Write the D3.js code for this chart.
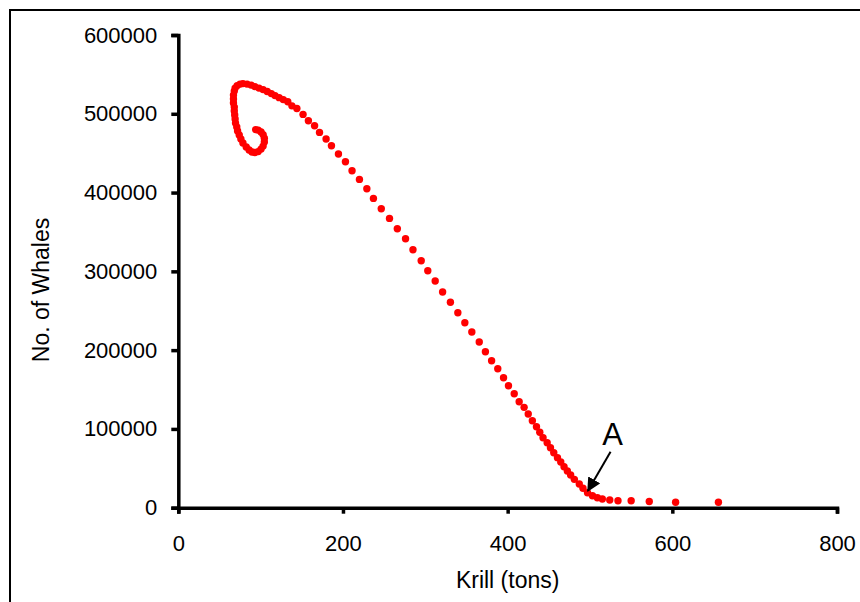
<!DOCTYPE html>
<html>
<head>
<meta charset="utf-8">
<script src="https://cdn.jsdelivr.net/npm/d3@7"></script>
<style>
  body { margin: 0; background: #fff; }
  svg { display: block; font-family: "Liberation Sans", Arial, sans-serif; }
</style>
</head>
<body>
<svg id="chart" width="860" height="602"></svg>
<script>
// krill (tons) vs number of whales
var krill = [656, 604, 572, 550, 534, 524, 515, 509, 503, 497, 491.5, 487, 481, 476.5, 472.5,
    468.5, 464.5, 460.5, 456, 452, 448, 443, 439, 435, 430, 425, 420, 414, 408, 401, 395, 388,
    380.5, 373, 365.5, 356.5, 348, 339.5, 330.5, 321, 312, 303, 295, 285, 276, 266, 256.5, 246.5,
    237, 229, 220, 211, 203, 194.5, 186, 179.5, 171.5, 165.5, 158, 151.5, 144, 138, 133,
    127.5, 122.5, 117.5, 113, 108, 103, 98, 93, 88.5, 83.5, 78.5, 75, 71.5, 69, 68, 67, 67, 67,
    68, 68, 68.5, 69, 69.5, 71, 72, 74, 76, 78.5, 82.5, 86, 89.5, 93, 97, 100.5, 103, 104.5,
    104.5, 103, 100.5, 97, 94];
var whales = [6900, 6900, 7900, 8900, 8900, 9800, 11000, 12700, 15200, 19000, 24600, 30000, 36000,
    41500, 46600, 52000, 58000, 63500, 69800, 76100, 82500, 88800, 95700, 102800, 110400, 118900,
    127400, 134500, 144700, 154800, 165000, 176400, 186500, 198000, 210300, 223000, 234800, 247500,
    260700, 273700, 287700, 300800, 313400, 327400, 341400, 354100, 367200, 379400, 392600, 404800,
    416700, 427700, 439100, 448900, 459400, 467900, 476400, 484800, 491100, 499200, 506800, 510100,
    515200, 518000, 520500, 523100, 525600, 528200, 530700, 532600, 534500, 536400, 537700, 538300,
    537700, 535800, 532600, 528800, 523700, 518700, 513600, 508500, 503500, 498400, 493300, 488200,
    483200, 478100, 473000, 468000, 462900, 457800, 454000, 451500, 450800, 452000, 455200, 459000,
    464100, 469100, 473600, 476800, 479300, 479900];

var xTicks = [0, 200, 400, 600, 800];
var yTicks = [0, 100000, 200000, 300000, 400000, 500000, 600000];

// label "A" and its arrow, in data units
var labelA = { text: "A", x: 527.5, y: 94000 };
var arrowA = { x1: 525, y1: 71000, x2: 497.5, y2: 21500 };

var width = 860, height = 602;
var margin = { top: 35, right: 23, bottom: 94.3, left: 178.3 };

var svg = d3.select("#chart");

// outer frame of the chart area
svg.append("rect")
    .attr("x", 10)
    .attr("y", 10)
    .attr("width", width)
    .attr("height", height)
    .attr("fill", "none")
    .attr("stroke", "#000")
    .attr("stroke-width", 2);

var x = d3.scaleLinear()
    .domain([0, 800])
    .range([margin.left, width - margin.right]);

var y = d3.scaleLinear()
    .domain([0, 600000])
    .range([height - margin.bottom, margin.top]);

var xAxis = svg.append("g")
    .attr("transform", "translate(0," + y(0) + ")")
    .call(d3.axisBottom(x).tickValues(xTicks).tickSize(6).tickSizeOuter(6).tickPadding(22));

var yAxis = svg.append("g")
    .attr("transform", "translate(" + x(0) + ",0)")
    .call(d3.axisLeft(y).tickValues(yTicks).tickFormat(d3.format("d")).tickSize(7).tickSizeOuter(7).tickPadding(14));

[xAxis, yAxis].forEach(function(g) {
    g.select(".domain").attr("stroke", "#000").attr("stroke-width", 3.5);
    g.selectAll(".tick line").attr("stroke", "#000").attr("stroke-width", 3.5);
    g.selectAll(".tick text")
        .attr("fill", "#000")
        .attr("font-size", 22)
        .attr("font-family", "Liberation Sans, Arial, sans-serif");
});

svg.append("text")
    .attr("x", (x(0) + x(800)) / 2)
    .attr("y", 588)
    .attr("text-anchor", "middle")
    .attr("font-size", 23)
    .text("Krill (tons)");

svg.append("text")
    .attr("transform", "translate(49,290) rotate(-90)")
    .attr("text-anchor", "middle")
    .attr("font-size", 23)
    .text("No. of Whales");

// the trajectory
svg.append("g")
    .selectAll("circle")
    .data(krill)
    .join("circle")
    .attr("cx", function(d) { return x(d); })
    .attr("cy", function(d, i) { return y(whales[i]); })
    .attr("r", 3.7)
    .attr("fill", "#ff0000");

// annotation
svg.append("defs").append("marker")
    .attr("id", "head")
    .attr("viewBox", "0 0 10 10")
    .attr("refX", 9)
    .attr("refY", 5)
    .attr("markerWidth", 7)
    .attr("markerHeight", 7)
    .attr("markerUnits", "strokeWidth")
    .attr("orient", "auto")
    .append("path")
    .attr("d", "M0,0L10,5L0,10z")
    .attr("fill", "#000");

svg.append("line")
    .attr("x1", x(arrowA.x1))
    .attr("y1", y(arrowA.y1))
    .attr("x2", x(arrowA.x2))
    .attr("y2", y(arrowA.y2))
    .attr("stroke", "#000")
    .attr("stroke-width", 2)
    .attr("marker-end", "url(#head)");

svg.append("text")
    .attr("x", x(labelA.x))
    .attr("y", y(labelA.y) + 11)
    .attr("text-anchor", "middle")
    .attr("font-size", 31)
    .text(labelA.text);
</script>
</body>
</html>
